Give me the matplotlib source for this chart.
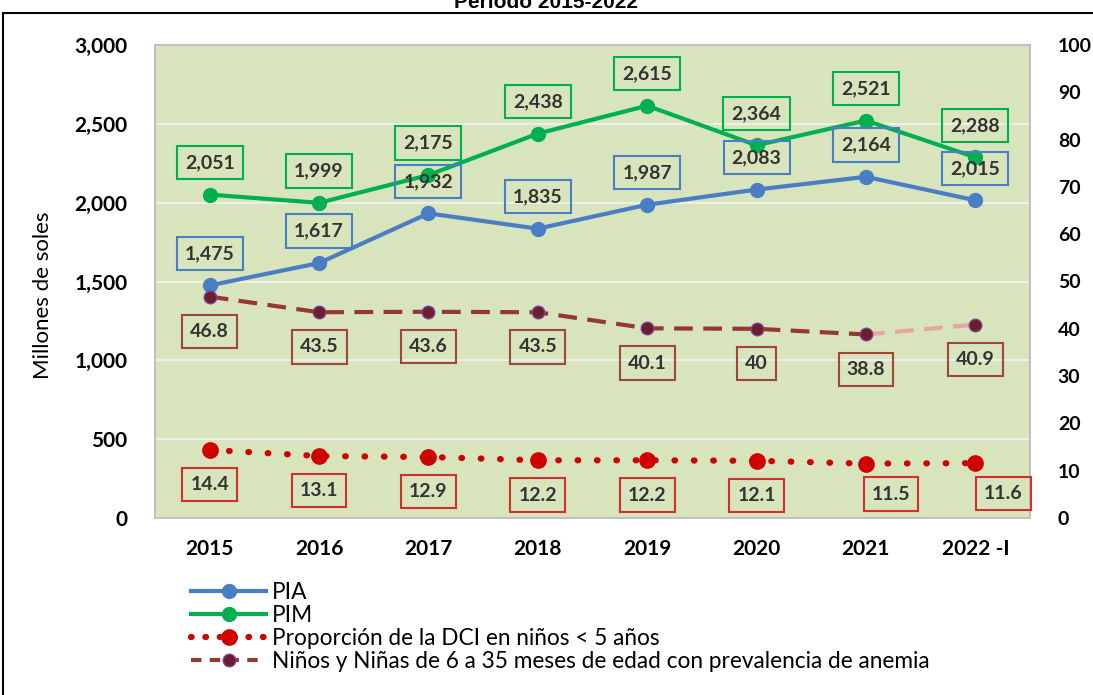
import numpy as np
import matplotlib.pyplot as plt
from matplotlib.lines import Line2D
from matplotlib.patches import Rectangle

plt.rcParams.update({
    "font.family": ["Lato", "DejaVu Sans"],
    "font.size": 12,
})

# data
years = ["2015", "2016", "2017", "2018", "2019", "2020", "2021", "2022 -I"]
pia = [1475, 1617, 1932, 1835, 1987, 2083, 2164, 2015]
pim = [2051, 1999, 2175, 2438, 2615, 2364, 2521, 2288]
dci = [14.4, 13.1, 12.9, 12.2, 12.2, 12.1, 11.5, 11.6]
anemia = [46.8, 43.5, 43.6, 43.5, 40.1, 40, 38.8, 40.9]
dci_labels = ["14.4", "13.1", "12.9", "12.2", "12.2", "12.1", "11.5", "11.6"]
anemia_labels = ["46.8", "43.5", "43.6", "43.5", "40.1", "40", "38.8", "40.9"]

C_PIA = "#4A7EC4"
C_PIM = "#00B050"
C_DCI = "#D00000"
C_ANE = "#953735"
C_ANE_LIGHT = "#E8A3A3"
C_BG = "#D8E4BC"

x = np.arange(len(years))

fig = plt.figure(figsize=(10.93, 6.95), dpi=100)
ax = fig.add_axes([155 / 1093, 1 - 518 / 695, 875 / 1093, 473 / 695])
ax2 = ax.twinx()

ax.set_facecolor(C_BG)
ax.set_xlim(-0.5, len(years) - 0.5)
ax.set_ylim(0, 3000)
ax2.set_ylim(0, 100)
ax.set_yticks(np.arange(0, 3001, 500))
ax.set_yticklabels([f"{v:,}" for v in range(0, 3001, 500)], fontweight="bold")
ax2.set_yticks(np.arange(0, 101, 10))
ax2.set_yticklabels([str(v) for v in range(0, 101, 10)], fontweight="bold")
ax.set_xticks(x)
ax.set_xticklabels(years, fontweight="bold")
ax.grid(axis="y", color="#EDF0E6", linewidth=1.5)
ax.set_axisbelow(True)
ax.tick_params(axis="x", length=0, labelsize=15, pad=15)
ax.tick_params(axis="y", length=0, labelsize=15, pad=20)
ax2.tick_params(length=0, labelsize=14, pad=20)
for a in (ax, ax2):
    for s in a.spines.values():
        s.set_color("#BFBFBF")
        s.set_linewidth(1.2)
ax.set_ylabel("Millones de soles", fontsize=16)
ax.yaxis.set_label_coords(-0.117, 0.47)

# lines
ax.plot(x, pia, color=C_PIA, lw=3, marker="o", ms=10, zorder=3)
ax.plot(x, pim, color=C_PIM, lw=3, marker="o", ms=10, zorder=3)
ax2.plot(x, dci, color=C_DCI, lw=4.5, linestyle=(0, (0.1, 3.0)),
         dash_capstyle="round", zorder=3)
ax2.plot(x, dci, color=C_DCI, lw=0, marker="o", ms=11, zorder=4)
ax2.plot(x[:7], anemia[:7], color=C_ANE, lw=3, linestyle=(0, (4.5, 2.5)), zorder=3)
ax2.plot(x[6:], anemia[6:], color=C_ANE_LIGHT, lw=3, linestyle=(0, (4.5, 2.5)), zorder=3)
ax2.plot(x, anemia, lw=0, marker="o", ms=9, color="#6B1F2A",
         markeredgecolor="#7A3E9A", markeredgewidth=1, zorder=4)


def box_label(a, xi, yi, txt, color, dy, dx=0):
    a.annotate(txt, (xi, yi), xytext=(dx, dy), textcoords="offset points",
               ha="center", va="center", fontsize=14, fontweight="bold",
               color="#333333", clip_on=False, zorder=6,
               bbox=dict(boxstyle="square,pad=0.42", fc="none", ec=color, lw=1.5))


for i in x:
    box_label(ax, i, pim[i], f"{pim[i]:,}", C_PIM, 23)
    box_label(ax, i, pia[i], f"{pia[i]:,}", C_PIA, 23)
    box_label(ax2, i, anemia[i], anemia_labels[i], "#A0453F", -25)
    dx = 20 if i == 7 else (18 if i == 6 else 0)
    dy = -22 if i >= 6 else -25
    box_label(ax2, i, dci[i], dci_labels[i], "#D03030", dy, dx)

# legend
handles = [
    Line2D([], [], color=C_PIA, lw=3, marker="o", ms=10),
    Line2D([], [], color=C_PIM, lw=3, marker="o", ms=10),
    Line2D([], [], color=C_DCI, lw=4.5, linestyle=(0, (0.1, 2.2)),
           dash_capstyle="round", marker="o", ms=11),
    Line2D([], [], color=C_ANE, lw=3, linestyle=(0, (2.5, 2)), marker="o", ms=9,
           markerfacecolor="#6B1F2A", markeredgecolor="#7A3E9A"),
]
labels = ["PIA", "PIM", "Proporción de la DCI en niños < 5 años",
          "Niños y Niñas de 6 a 35 meses de edad con prevalencia de anemia"]
fig.legend(handles, labels, loc="upper left",
           bbox_to_anchor=(180 / 1093, 1 - 571 / 695), frameon=False,
           fontsize=16.3, handlelength=3.3, handletextpad=0.25,
           labelspacing=0.08, borderpad=0)

# title cut at top and outer frame
fig.text(0.5, 1 - 8 / 695, "Periodo 2015-2022", ha="center", va="baseline",
         fontsize=15, fontweight="bold", family="Liberation Sans")
fig.patches.append(Rectangle((3 / 1093, -0.1), 1.2, 1.1 - 13 / 695,
                             transform=fig.transFigure, fill=False,
                             ec="black", lw=1.5, zorder=10))

fig.savefig("out.png", dpi=100)
